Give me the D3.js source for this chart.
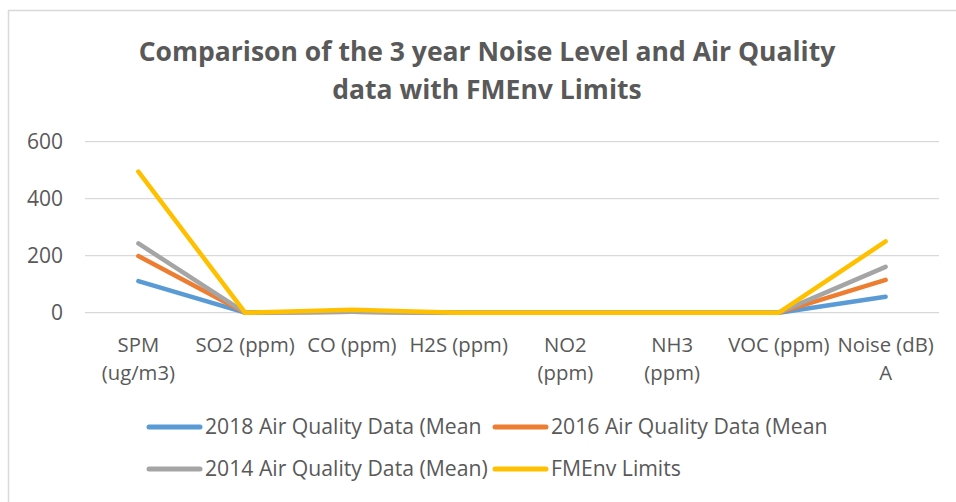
<!DOCTYPE html>
<html><head><meta charset="utf-8">
<script src="https://cdn.jsdelivr.net/npm/d3@7"></script>
<style>body{margin:0;background:#fff;}svg{display:block;font-family:"Open Sans","Noto Sans",sans-serif;}</style>
</head><body><svg id="c" width="956" height="502"></svg>
<script>
const categories = [["SPM","(ug/m3)"],["SO2 (ppm)"],["CO (ppm)"],["H2S (ppm)"],["NO2","(ppm)"],["NH3","(ppm)"],["VOC (ppm)"],["Noise (dB)","A"]];
const seriesNames = ["2018 Air Quality Data (Mean","2016 Air Quality Data (Mean","2014 Air Quality Data (Mean)","FMEnv Limits"];
const s2018 = [111, 0.1, 3, 0.1, 0.05, 0.1, 0.1, 56];
const s2016 = [199, 0.1, 3, 0.1, 0.05, 0.1, 0.1, 115];
const s2014 = [243, 0.1, 3, 0.1, 0.05, 0.1, 0.1, 161];
const fmenv = [495, 0.1, 10, 0.1, 0.04, 0.2, 0.2, 250];
const yTicks = [0, 200, 400, 600];
const titleLines = ["Comparison of the 3 year Noise Level and Air Quality","data with FMEnv Limits"];

(function(){
const colors = ["#5b9bd5","#ed7d31","#a5a5a5","#ffc000"];
const seriesVals = [s2018, s2016, s2014, fmenv];
const svg = d3.select("#c");
const textCol = "#595959";
const ff = "'Open Sans','Noto Sans',sans-serif";

svg.append("path").attr("d","M8.5,502 V10.5 H956").attr("fill","none").attr("stroke","#d9d9d9").attr("stroke-width",1.5);

svg.selectAll("text.title").data(titleLines).enter().append("text")
  .attr("x",487).attr("y",(d,i)=>61+i*38).attr("text-anchor","middle")
  .attr("font-size",26.5).attr("font-weight","bold").attr("fill",textCol).text(d=>d);

const pl=85, pr=939, pt=141.7, pb=312.7;
const x = d3.scaleBand().domain(d3.range(categories.length)).range([pl,pr]);
const y = d3.scaleLinear().domain([0,600]).range([pb,pt]);

svg.append("g").selectAll("line").data(yTicks).enter().append("line")
  .attr("x1",pl).attr("x2",pr).attr("y1",d=>y(d)).attr("y2",d=>y(d))
  .attr("stroke","#d9d9d9").attr("stroke-width",1.3);

const yAxis = svg.append("g").attr("transform",`translate(63,0)`)
  .call(d3.axisLeft(y).tickValues(yTicks).tickSize(0).tickPadding(0));
yAxis.select(".domain").remove();
yAxis.selectAll("text").attr("font-size",21).attr("fill",textCol).attr("font-family",ff);

const xg = svg.append("g");
categories.forEach((lines,i)=>{
  lines.forEach((ln,j)=>{
    xg.append("text").attr("x",x(i)+x.bandwidth()/2).attr("y",352+j*28)
      .attr("text-anchor","middle").attr("font-size",20.3).attr("fill",textCol).text(ln);
  });
});

const line = d3.line().x((d,i)=>x(i)+x.bandwidth()/2).y(d=>y(d));
seriesVals.forEach((vals,k)=>{
  svg.append("path").datum(vals).attr("d",line).attr("fill","none")
    .attr("stroke",colors[k]).attr("stroke-width",4.5)
    .attr("stroke-linecap","round").attr("stroke-linejoin","round");
});

const legPos = [[149,427],[495,427],[149,469],[495,469]];
seriesNames.forEach((n,k)=>{
  const [lx,ly]=legPos[k];
  svg.append("line").attr("x1",lx).attr("x2",lx+51).attr("y1",ly).attr("y2",ly)
    .attr("stroke",colors[k]).attr("stroke-width",5).attr("stroke-linecap","round");
  svg.append("text").attr("x",lx+56).attr("y",ly+7).attr("font-size",21.2).attr("fill",textCol).text(n);
});
})();
</script></body></html>
